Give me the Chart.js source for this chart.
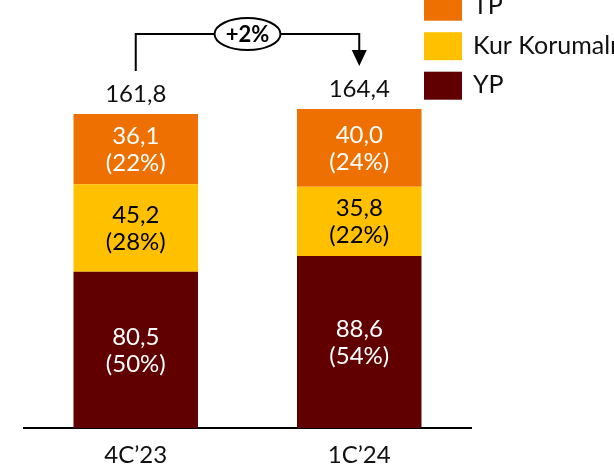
<!DOCTYPE html>
<html><head><meta charset="utf-8">
<script src="https://cdn.jsdelivr.net/npm/chart.js@4.4.1/dist/chart.umd.min.js"></script>
<style>html,body{margin:0;padding:0;background:#fff;overflow:hidden}#wrap{width:614px;height:464px;position:relative}</style>
</head><body><div id="wrap"><canvas id="c" width="614" height="464"></canvas></div>
<script>
const categories = ["4C’23", "1C’24"];
const seriesNames = ["YP", "Kur Korumalı", "TP"];
const ypValues = [80.5, 88.6];
const kurValues = [45.2, 35.8];
const tpValues = [36.1, 40.0];
const ypShares = [50, 54];
const kurShares = [28, 22];
const tpShares = [22, 24];
const changeLabel = "+2%";
const yMax = 200;

const FONT = "Lato, 'Open Sans', sans-serif";
const fmt = v => v.toFixed(1).replace('.', ',');

const datasets = [
  {label: seriesNames[0], data: ypValues, shares: ypShares, backgroundColor: '#600000', textColor: '#ffffff'},
  {label: seriesNames[1], data: kurValues, shares: kurShares, backgroundColor: '#FFC000', textColor: '#000000'},
  {label: seriesNames[2], data: tpValues, shares: tpShares, backgroundColor: '#ED7000', textColor: '#ffffff'}
];

const labelPlugin = {
  id: 'labels',
  afterDatasetsDraw(chart) {
    const ctx = chart.ctx;
    ctx.save();
    ctx.textAlign = 'center';
    ctx.textBaseline = 'middle';
    ctx.font = '24px ' + FONT;
    chart.data.datasets.forEach((ds, di) => {
      const meta = chart.getDatasetMeta(di);
      meta.data.forEach((bar, i) => {
        const cy = (bar.y + bar.base) / 2;
        ctx.fillStyle = ds.textColor;
        ctx.fillText(fmt(ds.data[i]), bar.x, cy - 13);
        ctx.fillText('(' + ds.shares[i] + '%)', bar.x, cy + 14);
      });
    });
    // totals
    const lastMeta = chart.getDatasetMeta(chart.data.datasets.length - 1);
    const tops = [];
    lastMeta.data.forEach((bar, i) => {
      let total = 0;
      chart.data.datasets.forEach(ds => total += ds.data[i]);
      ctx.fillStyle = '#111';
      ctx.fillText(fmt(total), bar.x, bar.y - 20);
      tops.push({x: bar.x, y: bar.y});
    });
    // change annotation
    const a = tops[0], b = tops[1];
    const hy = Math.min(a.y, b.y) - 75;
    const cx = (a.x + b.x) / 2;
    const rx = 33, ry = 16;
    ctx.strokeStyle = '#000';
    ctx.lineWidth = 2;
    ctx.beginPath();
    ctx.moveTo(a.x, a.y - 43);
    ctx.lineTo(a.x, hy);
    ctx.lineTo(cx - rx, hy);
    ctx.moveTo(cx + rx, hy);
    ctx.lineTo(b.x, hy);
    ctx.lineTo(b.x, b.y - 59);
    ctx.stroke();
    ctx.fillStyle = '#000';
    ctx.beginPath();
    ctx.moveTo(b.x - 7.5, b.y - 59);
    ctx.lineTo(b.x + 7.5, b.y - 59);
    ctx.lineTo(b.x, b.y - 43);
    ctx.closePath();
    ctx.fill();
    ctx.beginPath();
    ctx.ellipse(cx, hy, rx, ry, 0, 0, Math.PI * 2);
    ctx.fillStyle = '#fff';
    ctx.fill();
    ctx.stroke();
    ctx.fillStyle = '#000';
    ctx.font = 'bold 22px ' + FONT;
    ctx.fillText(changeLabel, cx, hy + 1);
    // legend (reverse order)
    const lx = 424, sw = 38, sh = 28;
    const dsList = chart.data.datasets.slice().reverse();
    ctx.font = '25px ' + FONT;
    ctx.textAlign = 'left';
    dsList.forEach((ds, k) => {
      const top = -7.3 + k * 39.5;
      ctx.fillStyle = ds.backgroundColor;
      ctx.fillRect(lx, top, sw, sh);
      ctx.fillStyle = '#111';
      ctx.fillText(ds.label, lx + 49, top + sh / 2 - 0.5);
    });
    ctx.restore();
  }
};

new Chart(document.getElementById('c'), {
  type: 'bar',
  data: {labels: categories, datasets},
  options: {
    responsive: false,
    animation: false,
    layout: {padding: {top: 40, left: 24, right: 143, bottom: 0}},
    plugins: {legend: {display: false}, tooltip: {enabled: false}},
    datasets: {bar: {categoryPercentage: 1, barPercentage: 0.557}},
    scales: {
      x: {
        stacked: true,
        grid: {display: false, drawTicks: false},
        border: {display: true, color: '#000', width: 2},
        ticks: {color: '#111', font: {family: FONT, size: 24}, padding: 13},
        afterFit: s => { s.height = 36; }
      },
      y: {stacked: true, display: false, min: 0, max: yMax}
    }
  },
  plugins: [labelPlugin]
});
</script></body></html>
